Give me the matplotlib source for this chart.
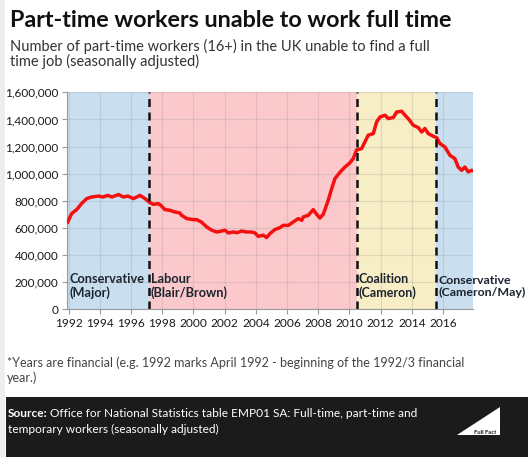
#!/usr/bin/env python3
"""Part-time workers unable to find full-time work, UK, by government."""
import matplotlib
matplotlib.use("Agg")
import matplotlib.pyplot as plt
from matplotlib.patches import Polygon, Rectangle
from matplotlib.ticker import FuncFormatter, MultipleLocator

# financial year (decimal) and count in thousands
years = [
    1991.94, 1992.19, 1992.51, 1992.83, 1993.15, 1993.47, 1993.90, 1994.20,
    1994.50, 1994.76, 1995.20, 1995.50, 1995.80, 1996.14, 1996.36, 1996.57,
    1996.90, 1997.15, 1997.42, 1997.74, 1997.90, 1998.17, 1998.49, 1998.80,
    1999.13, 1999.23, 1999.56, 1999.99, 2000.20, 2000.50, 2000.85, 2001.17,
    2001.49, 2001.80, 2002.02, 2002.23, 2002.55, 2002.80, 2003.09, 2003.40,
    2003.73, 2003.94, 2004.15, 2004.47, 2004.69, 2004.90, 2005.22, 2005.54,
    2005.76, 2006.08, 2006.40, 2006.72, 2006.94, 2007.04, 2007.36, 2007.68,
    2007.90, 2008.10, 2008.32, 2008.64, 2008.86, 2009.07, 2009.39, 2009.71,
    2010.03, 2010.24, 2010.46, 2010.78, 2010.99, 2011.20, 2011.53, 2011.74,
    2011.96, 2012.28, 2012.49, 2012.81, 2013.03, 2013.35, 2013.56, 2013.77,
    2014.09, 2014.41, 2014.63, 2014.84, 2015.05, 2015.37, 2015.59, 2015.80,
    2016.12, 2016.44, 2016.76, 2016.97, 2017.19, 2017.40, 2017.62, 2017.83,
    2017.94,
]
workers_k = [
    644, 706, 735, 780, 816, 828, 835, 828,
    840, 828, 846, 828, 835, 816, 828, 840,
    816, 791, 774, 779, 767, 735, 730, 718,
    710, 694, 669, 661, 661, 644, 607, 583,
    570, 577, 583, 563, 570, 565, 577, 570,
    570, 563, 538, 546, 529, 558, 588, 602,
    619, 619, 644, 669, 656, 681, 693, 735,
    700, 673, 700, 804, 890, 964, 1010, 1049,
    1080, 1111, 1175, 1185, 1234, 1283, 1296, 1381,
    1418, 1431, 1406, 1414, 1455, 1460, 1431, 1406,
    1357, 1340, 1307, 1333, 1296, 1276, 1266, 1222,
    1197, 1136, 1111, 1049, 1025, 1049, 1013, 1025,
    1020,
]

# government periods: start, end, shade, label, label size
periods = [
    (1991.91, 1997.15, "#c9dff0", "Conservative\n(Major)", 9.2),
    (1997.15, 2010.46, "#fbc9cc", "Labour\n(Blair/Brown)", 9.2),
    (2010.46, 2015.58, "#f8eec6", "Coalition\n(Cameron)", 9.0),
    (2015.58, 2017.94, "#c9dff0", "Conservative\n(Cameron/May)", 8.9),
]
changes = [1997.15, 2010.46, 2015.58]
x_ticks = list(range(1992, 2017, 2))

W, H = 528, 457
plt.rcParams["font.family"] = ["Lato", "DejaVu Sans"]

fig = plt.figure(figsize=(W / 100, H / 100), dpi=100)
fig.patch.set_facecolor("white")


def fy(py):
    return 1 - py / H


def fx(px):
    return px / W


ax = fig.add_axes([fx(67.3), fy(309.3), (473.3 - 67.3) / W, (309.3 - 92.3) / H])

for start, end, shade, label, size in periods:
    ax.axvspan(start, end, color=shade, lw=0, zorder=0)
    ax.text(start + 0.12, 95000, label, fontsize=size, fontweight="bold",
            color="#1c2430", ha="left", va="baseline", linespacing=1.12,
            clip_on=False, zorder=5)

for x in changes:
    ax.axvline(x, color="#111111", lw=1.8, dashes=(3.2, 2.2), zorder=4)

ax.plot(years, [v * 1000 for v in workers_k], color="#f51010", lw=2.5,
        solid_joinstyle="round", zorder=3)

ax.set_xlim(1991.91, 2017.94)
ax.set_ylim(0, 1600000)
ax.set_xticks(x_ticks)
ax.yaxis.set_major_locator(MultipleLocator(200000))
ax.yaxis.set_major_formatter(FuncFormatter(lambda v, _: f"{int(v):,}"))
ax.grid(True, color="#8a8a8a", alpha=0.22, lw=0.9, zorder=1)
ax.set_axisbelow(False)
for side in ("top", "right"):
    ax.spines[side].set_visible(False)
for side in ("left", "bottom"):
    ax.spines[side].set_color("#9a9a9a")
    ax.spines[side].set_linewidth(0.8)
ax.tick_params(axis="both", length=3.5, width=0.8, color="#9a9a9a",
               labelcolor="#1a1a1a", pad=3)
ax.tick_params(axis="y", labelsize=8.5)
ax.tick_params(axis="x", labelsize=8.6)

# header
fig.text(fx(10), fy(26.7), "Part-time workers unable to work full time",
         fontsize=16.8, fontweight="bold", color="#111111", va="baseline")
fig.text(fx(10), fy(51.5),
         "Number of part-time workers (16+) in the UK unable to find a full",
         fontsize=10.5, color="#333333", va="baseline")
fig.text(fx(10), fy(66.0), "time job (seasonally adjusted)",
         fontsize=10.5, color="#333333", va="baseline")

# footnote
fig.text(fx(7), fy(366.7),
         "*Years are financial (e.g. 1992 marks April 1992 - beginning of the "
         "1992/3 financial", fontsize=9.0, color="#444444", va="baseline")
fig.text(fx(7), fy(381.7), "year.)", fontsize=9.0, color="#444444",
         va="baseline")

# left border strip and source box
fig.patches.append(Rectangle((0, 0), fx(5), 1, transform=fig.transFigure,
                             facecolor="#eeeeee", edgecolor="none", zorder=0))
fig.patches.append(Rectangle((fx(6), 0), 1 - fx(6), fy(396.7),
                             transform=fig.transFigure, facecolor="#1b1b1b",
                             edgecolor="none", zorder=0))
fig.text(fx(8), fy(417.3), "Source:", fontsize=8.6, fontweight="bold",
         color="white", va="baseline")
fig.text(fx(50), fy(417.3),
         "Office for National Statistics table EMP01 SA: Full-time, part-time and",
         fontsize=8.6, color="white", va="baseline")
fig.text(fx(8), fy(433.3), "temporary workers (seasonally adjusted)",
         fontsize=8.6, color="white", va="baseline")

# logo
fig.patches.append(Polygon([(fx(457), fy(435)), (fx(500), fy(435)),
                            (fx(500), fy(407))], closed=True,
                           transform=fig.transFigure, facecolor="white",
                           edgecolor="none", zorder=1))
fig.text(fx(485), fy(433.5), "Full Fact", fontsize=4.2, fontweight="bold",
         color="#1b1b1b", ha="center", va="baseline", zorder=2)

fig.savefig("out.png", dpi=100, facecolor="white")
